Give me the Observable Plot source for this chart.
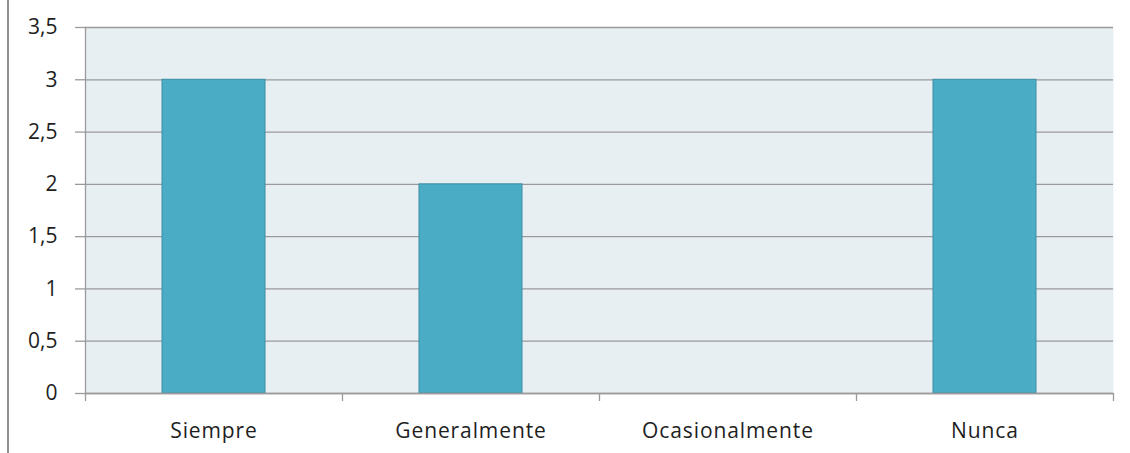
<!DOCTYPE html>
<html>
<head>
<meta charset="utf-8">
<script src="https://cdn.jsdelivr.net/npm/d3@7"></script>
<script src="https://cdn.jsdelivr.net/npm/@observablehq/plot@0.6"></script>
<style>
  html, body { margin: 0; padding: 0; background: #fff; }
  #wrap { position: relative; width: 1130px; height: 453px; }
  #edge { position: absolute; left: 7px; top: 0; width: 2px; height: 453px; background: #8f8f8f; }
</style>
</head>
<body>
<div id="wrap"><div id="edge"></div></div>
<script>
const categories = ["Siempre", "Generalmente", "Ocasionalmente", "Nunca"];
const values = [3, 2, 0, 3];
const yTicks = [0, 0.5, 1, 1.5, 2, 2.5, 3, 3.5];

const data = categories.map((c, i) => ({cat: c, value: values[i]}));
const fmt = d => String(d).replace(".", ",");

const W = 1130, H = 453;
const mL = 85, mR = 17, mT = 27, mB = 60;
const step = (W - mL - mR) / categories.length;
const grey = "#9a9a9a";

const chart = Plot.plot({
  width: W,
  height: H,
  marginLeft: mL,
  marginRight: mR,
  marginTop: mT,
  marginBottom: mB,
  style: {fontFamily: "'Open Sans', 'Noto Sans', sans-serif", fontSize: "21px", color: "#1e1e1e", background: "transparent"},
  x: {domain: categories, paddingInner: 0.6, paddingOuter: 0.3, label: null},
  y: {domain: [0, 3.5], label: null},
  marks: [
    Plot.frame({fill: "#E8EFF3", stroke: "none"}),
    Plot.gridY(yTicks, {stroke: grey, strokeOpacity: 1, strokeWidth: 1.3}),
    Plot.axisY(yTicks, {tickSize: 10, tickPadding: 18, tickFormat: fmt, stroke: grey, strokeWidth: 1.3, fill: "#1e1e1e", fontSize: 21, label: null}),
    Plot.barY(data, {x: "cat", y: "value", fill: "#4BACC6", stroke: "#3C8EA5", strokeWidth: 1}),
    Plot.ruleY([0], {stroke: grey, strokeWidth: 1.3}),
    Plot.frame({anchor: "left", stroke: grey, strokeWidth: 1.3}),
    Plot.axisX({tickSize: 0, tickPadding: 30, fill: "#1e1e1e", fontSize: 21, label: null}),
    Plot.axisX({tickSize: 8, tickFormat: () => "", dx: -step / 2, stroke: grey, strokeWidth: 1.3, label: null}),
    Plot.axisX([categories[categories.length - 1]], {tickSize: 8, tickFormat: () => "", dx: step / 2, stroke: grey, strokeWidth: 1.3, label: null})
  ]
});
chart.querySelectorAll("[aria-label='x-axis tick label'] text").forEach(t => t.style.letterSpacing = "0.9px");
document.getElementById("wrap").appendChild(chart);
chart.style.position = "absolute";
chart.style.left = "0";
chart.style.top = "0";
</script>
</body>
</html>
